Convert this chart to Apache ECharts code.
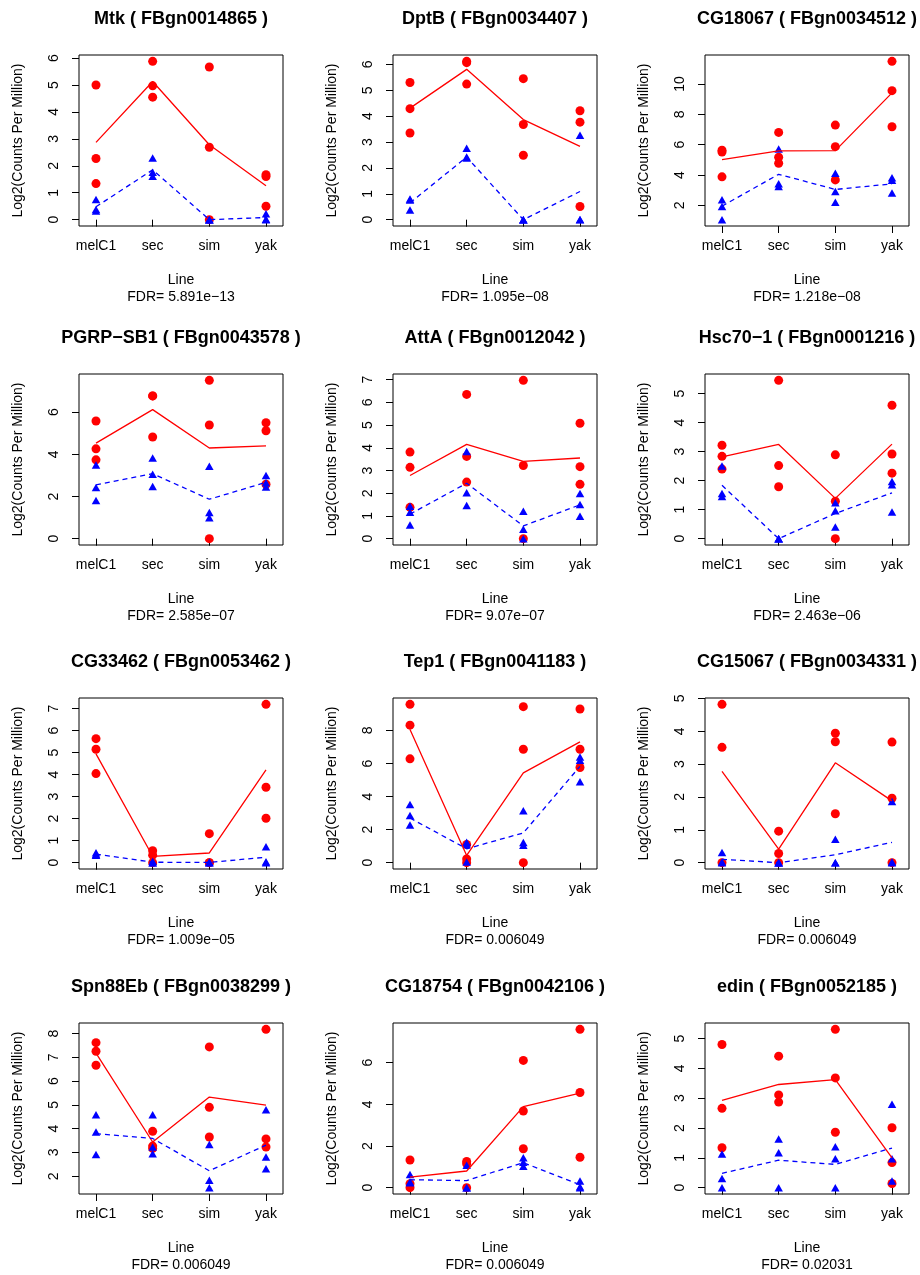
<!DOCTYPE html>
<html><head><meta charset="utf-8">
<script src="https://cdn.jsdelivr.net/npm/echarts@6/dist/echarts.min.js"></script>
<style>html,body{margin:0;padding:0;background:#fff}#c{width:920px;height:1275px}</style>
</head><body><div id="c"></div>
<script>
// ---- data ----
const lineNames = ['melC1', 'sec', 'sim', 'yak'];
const geneTitles = [
  'Mtk ( FBgn0014865 )', 'DptB ( FBgn0034407 )', 'CG18067 ( FBgn0034512 )',
  'PGRP\u2212SB1 ( FBgn0043578 )', 'AttA ( FBgn0012042 )', 'Hsc70\u22121 ( FBgn0001216 )',
  'CG33462 ( FBgn0053462 )', 'Tep1 ( FBgn0041183 )', 'CG15067 ( FBgn0034331 )',
  'Spn88Eb ( FBgn0038299 )', 'CG18754 ( FBgn0042106 )', 'edin ( FBgn0052185 )'
];
const fdrLabels = [
  '5.891e\u221213', '1.095e\u221208', '1.218e\u221208',
  '2.585e\u221207', '9.07e\u221207', '2.463e\u221206',
  '1.009e\u221205', '0.006049', '0.006049',
  '0.006049', '0.006049', '0.02031'
];
// red circles: per panel, per line (melC1, sec, sim, yak)
const redPoints = [
  [[5.00, 2.27, 1.34], [5.88, 4.97, 4.55], [5.67, 2.69, 0.00], [1.67, 1.60, 0.50]],
  [[5.30, 4.29, 3.35], [6.12, 6.07, 5.24], [5.45, 3.68, 2.49], [4.21, 3.77, 0.51]],
  [[5.63, 5.52, 3.88], [6.81, 5.17, 4.78], [7.29, 5.87, 3.68], [11.49, 9.56, 7.18]],
  [[5.58, 4.26, 3.74], [6.77, 6.77, 4.82], [7.51, 5.39, 0.00], [5.50, 5.12, 2.58]],
  [[3.81, 3.14, 1.38], [6.35, 3.62, 2.49], [6.97, 3.22, 0.00], [5.08, 3.17, 2.39]],
  [[3.22, 2.84, 2.40], [5.46, 2.52, 1.79], [2.89, 1.29, 0.00], [4.60, 2.92, 2.26]],
  [[5.64, 5.16, 4.05], [0.54, 0.34, 0.00], [1.32, 0.00, 0.00], [7.20, 3.43, 2.02]],
  [[9.58, 8.32, 6.28], [1.10, 0.22, 0.00], [9.44, 6.86, 0.00], [9.30, 6.86, 5.76]],
  [[4.82, 3.51, 0.00], [0.96, 0.28, 0.00], [3.94, 3.68, 1.49], [3.67, 1.96, 0.00]],
  [[7.62, 7.26, 6.67], [3.89, 3.27, 3.17], [7.44, 4.90, 3.65], [8.18, 3.57, 3.23]],
  [[1.33, 0.19, 0.00], [1.26, 1.15, 0.00], [6.11, 3.68, 1.87], [7.60, 4.57, 1.46]],
  [[4.80, 2.66, 1.34], [4.41, 3.11, 2.87], [5.31, 3.68, 1.86], [2.01, 0.84, 0.14]]
];
// blue triangles
const bluePoints = [
  [[0.75, 0.38, 0.32], [2.29, 1.76, 1.61], [0.00, 0.00, 0.00], [0.22, 0.02, 0.00]],
  [[0.80, 0.76, 0.37], [2.76, 2.42, 2.38], [0.00, 0.00, 0.00], [3.26, 0.01, 0.00]],
  [[2.37, 1.93, 1.06], [5.72, 3.42, 3.25], [4.12, 2.92, 2.20], [3.82, 3.65, 2.81]],
  [[3.50, 2.43, 1.81], [3.83, 3.05, 2.47], [3.44, 1.24, 0.99], [3.00, 2.65, 2.45]],
  [[1.43, 1.16, 0.60], [3.84, 2.02, 1.46], [1.21, 0.42, 0.00], [1.99, 1.50, 0.99]],
  [[2.51, 1.56, 1.45], [0.00, 0.00, 0.00], [1.24, 0.96, 0.40], [1.97, 1.86, 0.92]],
  [[0.45, 0.37, 0.34], [0.07, 0.00, 0.00], [0.03, 0.00, 0.00], [0.72, 0.04, 0.00]],
  [[3.52, 2.86, 2.28], [1.24, 1.10, 0.04], [3.14, 1.22, 1.05], [6.40, 6.20, 4.90]],
  [[0.31, 0.02, 0.00], [0.00, 0.00, 0.00], [0.71, 0.00, 0.00], [1.86, 0.02, 0.00]],
  [[4.59, 3.86, 2.91], [4.59, 3.23, 2.95], [3.34, 1.83, 1.52], [4.80, 2.81, 2.32]],
  [[0.63, 0.27, 0.24], [1.08, 0.00, 0.00], [1.44, 1.22, 1.03], [0.32, 0.05, 0.00]],
  [[1.13, 0.31, 0.00], [1.63, 1.17, 0.00], [1.37, 0.97, 0.00], [2.80, 0.97, 0.22]]
];
// solid red line (per line)
const redLine = [
  [2.87, 5.13, 2.78, 1.26],
  [4.31, 5.81, 3.87, 2.83],
  [5.01, 5.59, 5.61, 9.41],
  [4.53, 6.12, 4.30, 4.40],
  [2.78, 4.15, 3.40, 3.55],
  [2.82, 3.25, 1.39, 3.26],
  [4.95, 0.29, 0.44, 4.22],
  [8.06, 0.44, 5.43, 7.31],
  [2.78, 0.41, 3.04, 1.88],
  [7.18, 3.44, 5.33, 4.99],
  [0.51, 0.80, 3.89, 4.54],
  [2.93, 3.46, 3.62, 1.00]
];
// dashed blue line
const blueLine = [
  [0.48, 1.85, 0.00, 0.08],
  [0.65, 2.42, 0.00, 1.09],
  [1.95, 4.05, 3.05, 3.42],
  [2.55, 3.08, 1.87, 2.67],
  [1.08, 2.44, 0.56, 1.49],
  [1.84, 0.00, 0.87, 1.58],
  [0.39, 0.02, 0.01, 0.25],
  [2.70, 0.84, 1.80, 5.83],
  [0.10, 0.00, 0.24, 0.62],
  [3.79, 3.59, 2.23, 3.31],
  [0.38, 0.34, 1.20, 0.14],
  [0.48, 0.92, 0.78, 1.33]
];
const yTickValues = [
  [0, 1, 2, 3, 4, 5, 6],
  [0, 1, 2, 3, 4, 5, 6],
  [2, 4, 6, 8, 10],
  [0, 2, 4, 6],
  [0, 1, 2, 3, 4, 5, 6, 7],
  [0, 1, 2, 3, 4, 5],
  [0, 1, 2, 3, 4, 5, 6, 7],
  [0, 2, 4, 6, 8],
  [0, 1, 2, 3, 4, 5],
  [2, 3, 4, 5, 6, 7, 8],
  [0, 2, 4, 6],
  [0, 1, 2, 3, 4, 5]
];

// ---- layout ----
const colLeft = [79, 393, 705];
const rowTop = [55, 374, 698, 1023];
const boxW = 204, boxH = 171;
const FONT = '"Liberation Sans", Arial, Helvetica, sans-serif';

const grids = [], xAxes = [], yAxes = [], series = [], graphics = [];
for (let i = 0; i < 12; i++) {
  const r = Math.floor(i / 3), c = i % 3;
  const left = colLeft[c], top = rowTop[r];
  grids.push({ left: left, top: top, width: boxW, height: boxH, show: true,
    borderColor: '#000', borderWidth: 1, backgroundColor: 'transparent', containLabel: false });
  const all = redPoints[i].flat().concat(bluePoints[i].flat());
  const lo = Math.min(...all), hi = Math.max(...all);
  const pad = (hi - lo) * 0.04;
  xAxes.push({ type: 'value', gridIndex: i, min: 0.7, max: 4.3,
    axisLine: { show: false }, splitLine: { show: false },
    axisTick: { show: true, length: 7, customValues: [1, 2, 3, 4], lineStyle: { color: '#000', width: 1 } },
    axisLabel: { customValues: [1, 2, 3, 4], formatter: v => lineNames[Math.round(v) - 1],
      margin: 13, fontSize: 14, color: '#000', fontFamily: FONT } });
  yAxes.push({ type: 'value', gridIndex: i, min: lo - pad, max: hi + pad,
    axisLine: { show: false }, splitLine: { show: false },
    axisTick: { show: true, length: 7, customValues: yTickValues[i], lineStyle: { color: '#000', width: 1 } },
    axisLabel: { customValues: yTickValues[i], rotate: 90, margin: 18,
      fontSize: 14, color: '#000', fontFamily: FONT } });
  const toPts = arr => arr.flatMap((vals, g) => vals.map(v => [g + 1, v]));
  series.push({ type: 'scatter', xAxisIndex: i, yAxisIndex: i, data: toPts(redPoints[i]),
    symbol: 'circle', symbolSize: 9, itemStyle: { color: '#ff0000', opacity: 1 }, z: 2 });
  series.push({ type: 'scatter', xAxisIndex: i, yAxisIndex: i, data: toPts(bluePoints[i]),
    symbol: 'triangle', symbolSize: [8.5, 7.5], itemStyle: { color: '#0000ff', opacity: 1 }, z: 3 });
  series.push({ type: 'line', xAxisIndex: i, yAxisIndex: i, data: redLine[i].map((v, g) => [g + 1, v]),
    symbol: 'none', lineStyle: { color: '#ff0000', width: 1.3 }, z: 4 });
  series.push({ type: 'line', xAxisIndex: i, yAxisIndex: i, data: blueLine[i].map((v, g) => [g + 1, v]),
    symbol: 'none', lineStyle: { color: '#0000ff', width: 1.3, type: [5, 4] }, z: 5 });
  const cx = left + boxW / 2;
  graphics.push({ type: 'text', x: cx, y: top - 36,
    style: { text: geneTitles[i], align: 'center', verticalAlign: 'middle',
      font: 'bold 18px ' + FONT, fill: '#000' } });
  graphics.push({ type: 'text', x: cx, y: top + boxH + 54,
    style: { text: 'Line', align: 'center', verticalAlign: 'middle', font: '14px ' + FONT, fill: '#000' } });
  graphics.push({ type: 'text', x: cx, y: top + boxH + 71,
    style: { text: 'FDR= ' + fdrLabels[i], align: 'center', verticalAlign: 'middle', font: '14px ' + FONT, fill: '#000' } });
  graphics.push({ type: 'text', x: left - 61, y: top + boxH / 2, rotation: Math.PI / 2,
    style: { text: 'Log2(Counts Per Million)', align: 'center', verticalAlign: 'middle', font: '14px ' + FONT, fill: '#000' } });
}

const chart = echarts.init(document.getElementById('c'), null, { renderer: 'canvas' });
chart.setOption({
  animation: false,
  backgroundColor: '#fff',
  grid: grids, xAxis: xAxes, yAxis: yAxes, series: series, graphic: graphics
});
</script>
</body></html>
